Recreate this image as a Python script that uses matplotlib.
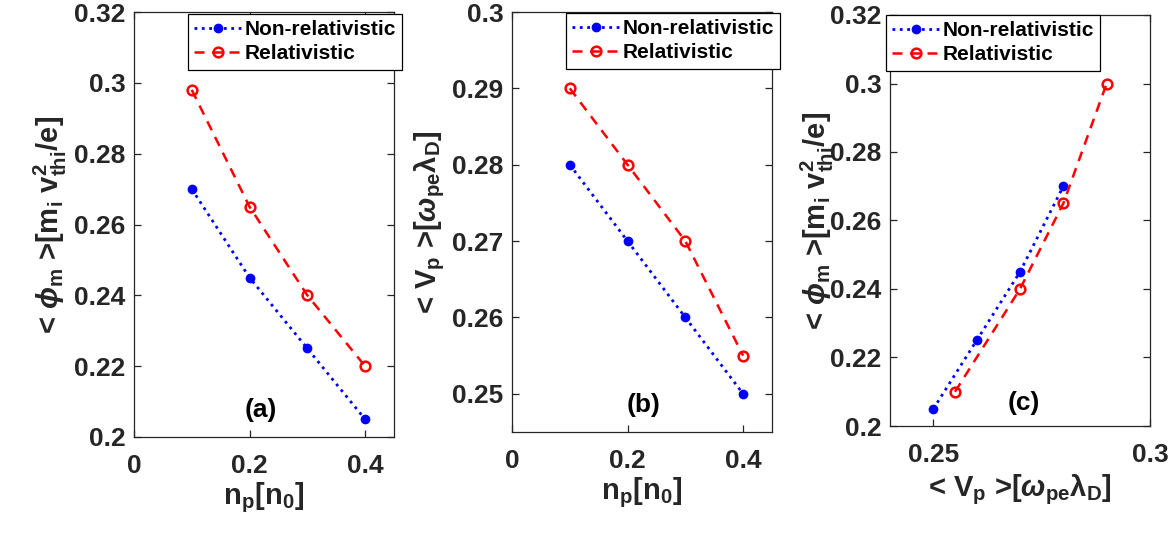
import matplotlib
matplotlib.use('Agg')
import matplotlib.pyplot as plt

# data
np_vals = [0.1, 0.2, 0.3, 0.4]
phi_nonrel = [0.27, 0.245, 0.225, 0.205]
phi_rel = [0.298, 0.265, 0.24, 0.22]
vp_nonrel = [0.28, 0.27, 0.26, 0.25]
vp_rel = [0.29, 0.28, 0.27, 0.255]
# panel (c)
c_vp_nonrel = [0.25, 0.26, 0.27, 0.28]
c_phi_nonrel = [0.205, 0.225, 0.245, 0.27]
c_vp_rel = [0.255, 0.27, 0.28, 0.29]
c_phi_rel = [0.21, 0.24, 0.265, 0.3]

matplotlib.rcParams['font.family'] = ['Liberation Sans', 'DejaVu Sans']
matplotlib.rcParams['font.weight'] = 'bold'
matplotlib.rcParams['mathtext.fontset'] = 'custom'
matplotlib.rcParams['mathtext.rm'] = 'Liberation Sans:bold'
matplotlib.rcParams['mathtext.it'] = 'Liberation Sans:italic:bold'
matplotlib.rcParams['mathtext.bf'] = 'Liberation Sans:bold'
matplotlib.rcParams['mathtext.default'] = 'rm'

dark = '#262626'
phi_label = r'< $\mathit{\phi}_{m}$ >[m$_{i}$ v$^{2}_{thi}$/e]'
vp_label = r'< V$_{p}$ >[$\mathit{\omega}_{pe}\lambda_{D}$]'
np_label = r'n$_{p}$[n$_{0}$]'

fig = plt.figure(figsize=(11.73, 5.38), dpi=100)
W, H = 1173, 538


def make_ax(left, top, right, bottom):
    return fig.add_axes([left / W, 1 - bottom / H, (right - left) / W, (bottom - top) / H])


def style(ax):
    for s in ax.spines.values():
        s.set_color(dark)
        s.set_linewidth(0.9)
    ax.tick_params(direction='in', top=True, right=True, length=5, width=0.9,
                   colors=dark, labelsize=19)
    ax.tick_params(axis='x', pad=12)
    ax.tick_params(axis='y', pad=6)
    for lab in ax.get_xticklabels() + ax.get_yticklabels():
        lab.set_fontweight('bold')


def plot_pair(ax, x1, y1, x2, y2):
    ax.plot(x1, y1, ':', color='b', lw=2, marker='o', ms=6, mfc='b', mec='b',
            label='Non-relativistic')
    ax.plot(x2, y2, '--', color='r', lw=1.8, marker='o', ms=7, mfc='none', mec='r',
            mew=1.8, dashes=(4, 3), label='Relativistic')


def legend(ax, bbox):
    leg = ax.legend(loc='upper left', bbox_to_anchor=bbox, bbox_transform=fig.transFigure,
                    prop={'size': 15, 'weight': 'bold'}, fancybox=False, framealpha=1,
                    edgecolor='black', borderpad=0.3, labelspacing=0.25,
                    handlelength=2.3, handletextpad=0.1, borderaxespad=0)
    leg.get_frame().set_linewidth(0.9)


# (a)
ax1 = make_ax(134, 12, 394, 437)
plot_pair(ax1, np_vals, phi_nonrel, np_vals, phi_rel)
ax1.set_xlim(0, 0.45)
ax1.set_ylim(0.2, 0.32)
ax1.set_xticks([0, 0.2, 0.4])
ax1.set_xticklabels(['0', '0.2', '0.4'])
ax1.set_yticks([0.2, 0.22, 0.24, 0.26, 0.28, 0.3, 0.32])
ax1.set_yticklabels(['0.2', '0.22', '0.24', '0.26', '0.28', '0.3', '0.32'])
style(ax1)
ax1.set_xlabel(np_label, fontsize=21, fontweight='bold', color=dark, labelpad=2)
ax1.set_ylabel(phi_label, fontsize=21, fontweight='bold', color=dark, labelpad=4)
ax1.text(0.219, 0.2076, '(a)', fontsize=19, fontweight='bold', ha='center', va='center')
legend(ax1, (188 / W, 1 - 14 / H))

# (b)
ax2 = make_ax(512, 12, 772, 432)
plot_pair(ax2, np_vals, vp_nonrel, np_vals, vp_rel)
ax2.set_xlim(0, 0.45)
ax2.set_ylim(0.245, 0.3)
ax2.set_xticks([0, 0.2, 0.4])
ax2.set_xticklabels(['0', '0.2', '0.4'])
ax2.set_yticks([0.25, 0.26, 0.27, 0.28, 0.29, 0.3])
ax2.set_yticklabels(['0.25', '0.26', '0.27', '0.28', '0.29', '0.3'])
style(ax2)
ax2.set_xlabel(np_label, fontsize=21, fontweight='bold', color=dark, labelpad=2)
ax2.set_ylabel(vp_label, fontsize=21, fontweight='bold', color=dark, labelpad=4)
ax2.text(0.227, 0.2485, '(b)', fontsize=19, fontweight='bold', ha='center', va='center')
legend(ax2, (566 / W, 1 - 13 / H))

# (c)
ax3 = make_ax(890, 15, 1150, 426)
plot_pair(ax3, c_vp_nonrel, c_phi_nonrel, c_vp_rel, c_phi_rel)
ax3.set_xlim(0.24, 0.3)
ax3.set_ylim(0.2, 0.32)
ax3.set_xticks([0.25, 0.3])
ax3.set_xticklabels(['0.25', '0.3'])
ax3.set_yticks([0.2, 0.22, 0.24, 0.26, 0.28, 0.3, 0.32])
ax3.set_yticklabels(['0.2', '0.22', '0.24', '0.26', '0.28', '0.3', '0.32'])
style(ax3)
ax3.set_xlabel(vp_label, fontsize=21, fontweight='bold', color=dark, labelpad=4)
# the original label sits partly over the tick labels
ax3.set_ylabel(phi_label, fontsize=21, fontweight='bold', color=dark, labelpad=-4)
ax3.text(0.2708, 0.2067, '(c)', fontsize=19, fontweight='bold', ha='center', va='center')
legend(ax3, (886 / W, 1 - 15 / H))

fig.savefig('out.png', dpi=100)
